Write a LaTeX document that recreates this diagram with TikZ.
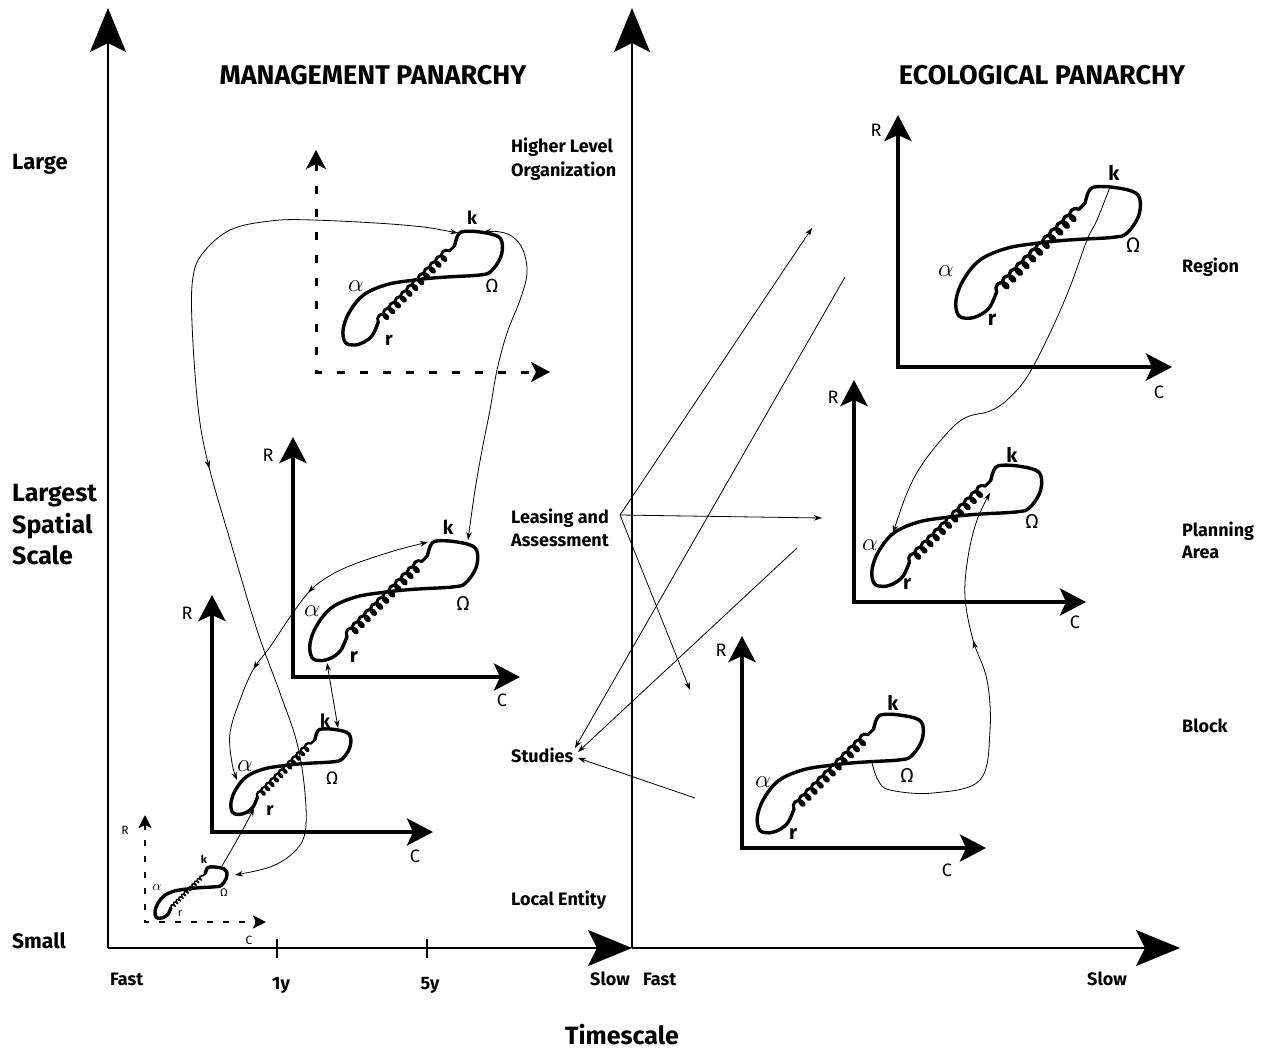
\documentclass[tikz,border=0pt]{standalone}
\usepackage{fontspec}
\setmainfont{Fira Sans}
\usetikzlibrary{arrows.meta,decorations.pathmorphing,decorations.markings}
\newcommand\fsz[1]{\fontsize{#1}{#1}\selectfont}
\newcommand\adcycle[3]{%
 \begin{scope}[shift={(#1,#2)},scale=#3]
  \draw[loopline] plot[smooth,tension=0.6] coordinates {(25,-37.4) (26.7,-44) (30,-51.4) (36.7,-54) (53.3,-53.4) (73.3,-49) (80,-40.7) (78.3,-24) (66.7,-7.4) (53.3,-3.4) (20,-1.4) (0,0) (-23.3,2.6) (-53.3,7.6) (-80,19.3) (-96.7,39.3) (-104,59.3) (-101.7,74.3) (-91.7,77.6) (-80,74.3) (-70,66) (-63.3,51)};
  \draw[loopline,line width={3pt*#3+0.3pt},decorate,decoration={coil,aspect=0.75,amplitude={4.8pt*#3},segment length={9.5pt*#3}}] (-63.3,51) -- (25,-37.4);
 \end{scope}}
\begin{document}
\begin{tikzpicture}[x=1pt,y=-1pt,
  mainax/.style={line width=2pt,-{Stealth[length=44pt,width=36pt,inset=9pt]}},
  panax/.style={line width=4pt,line join=miter,{Stealth[length=26pt,width=27pt,inset=6pt]}-{Stealth[length=26pt,width=27pt,inset=6pt]}},
  dashax/.style={line width=3pt,dash pattern=on 8pt off 15pt,{Stealth[length=19pt,width=20pt,inset=5pt]}-{Stealth[length=19pt,width=20pt,inset=5pt]}},
  tinyax/.style={line width=2.5pt,dash pattern=on 6pt off 10pt,{Stealth[length=13pt,width=13pt,inset=3pt]}-{Stealth[length=13pt,width=13pt,inset=3pt]}},
  loopline/.style={line width=3.4pt,line join=round,line cap=round},
  conn/.style={line width=0.8pt},
  tip/.tip={Stealth[length=8pt,width=5.5pt]},
  midarr/.style={postaction={decorate,decoration={markings,mark=at position #1 with {\arrow{tip}}}}},
  lbl/.style={font=\bfseries\fsz{18},anchor=base west,inner sep=0pt},
  big/.style={font=\bfseries\fsz{25},anchor=base west,inner sep=0pt},
  axl/.style={font=\fsz{18},inner sep=0pt}
]
\useasboundingbox (0,0) rectangle (1265,1051);

% ---------- main axes
\draw[mainax] (108,948) -- (108,8);
\draw[mainax] (108,948) -- (632,948);
\draw[mainax] (632,948) -- (632,8);
\draw[mainax] (632,948) -- (1180,948);
\draw[line width=2pt] (277,939) -- (277,958);
\draw[line width=2pt] (427,939) -- (427,958);

% ---------- panel axes
\draw[dashax] (316,150) -- (316,372) -- (550,372);
\draw[panax] (293,437) -- (293,677) -- (520,677);
\draw[panax] (212,595) -- (212,832) -- (433,832);
\draw[tinyax] (145,815) -- (145,922) -- (266,922);
\draw[panax] (898,115) -- (898,367) -- (1172,367);
\draw[panax] (854,380) -- (854,602) -- (1086,602);
\draw[panax] (742,636) -- (742,848) -- (986,848);

% ---------- adaptive cycles
\adcycle{433}{278}{0.864}
\adcycle{404.6}{590}{0.91}
\adcycle{298.6}{764}{0.65}
\adcycle{195.6}{888}{0.39}
\adcycle{1060}{240.7}{1}
\adcycle{967.7}{515}{0.92}
\adcycle{851}{763}{0.9}

% ---------- connector end points
\coordinate (mtK) at (458,233);
\coordinate (mtKr) at (483,232);
\coordinate (mmK) at (468,540);
\coordinate (mmKl) at (428,542);
\coordinate (mmR) at (327,663);
\coordinate (msK) at (338,728);
\coordinate (msA) at (237,780);
\coordinate (msR) at (254,808);
\coordinate (mtyK) at (222,866);
\coordinate (mtyO) at (235,875);
\coordinate (lease) at (620,515);
\coordinate (lA) at (812,228);
\coordinate (lB) at (822,518);
\coordinate (lC) at (690,690);
\coordinate (sA) at (845,277);
\coordinate (sB) at (797,548);
\coordinate (sC) at (695,798);
\coordinate (st1) at (575,748);
\coordinate (st2) at (578,752);
\coordinate (st3) at (578,758);
\coordinate (etK) at (1110,187);
\coordinate (emA) at (893,533);
\coordinate (emK) at (990,493);
\coordinate (ebO) at (872,763);

% ---------- connectors
\draw[conn,tip-tip,midarr=0.51] plot[smooth,tension=0.6] coordinates {(mtK) (403,225) (313,220) (270,221) (230,230) (203,253) (193,277) (192,323) (198,407) (208,463) (230,540) (257,630) (280,693) (297,743) (305,793) (305,833) (293,853) (270,867) (mtyO)};
\draw[conn,tip-tip] plot[smooth,tension=0.6] coordinates {(mtKr) (500,232) (513,237) (523,250) (527,273) (520,300) (507,333) (497,370) (490,410) (483,445) (475,490) (mmK)};
\draw[conn,tip-tip,midarr=0.385,midarr=0.66] plot[smooth,tension=0.6] coordinates {(mmKl) (387,553) (347,567) (323,580) (308,593) (290,617) (270,647) (253,670) (240,700) (230,733) (232,763) (msA)};
\draw[conn,tip-tip] (mmR) -- (msK);
\draw[conn,-tip] plot[smooth,tension=0.6] coordinates {(mtyK) (237,840) (248,820) (msR)};
\draw[conn,-tip] (lease) -- (lA);
\draw[conn,-tip] (lease) -- (lB);
\draw[conn,-tip] (lease) -- (lC);
\draw[conn,-tip] (sA) -- (st1);
\draw[conn,-tip] (sB) -- (st2);
\draw[conn,-tip] (sC) -- (st3);
\draw[conn,-tip] plot[smooth,tension=0.6] coordinates {(etK) (1097,220) (1087,240) (1070,287) (1050,333) (1027,377) (1007,400) (990,411) (967,417) (950,430) (923,463) (907,493) (emA)};
\draw[conn,-tip,midarr=0.64] plot[smooth,tension=0.6] coordinates {(ebO) (878,780) (890,790) (933,793) (980,780) (990,730) (987,680) (973,640) (965,597) (968,557) (977,520) (emK)};

% ---------- cycle labels
\begin{scope}[every node/.style={inner sep=0pt}]
\node[font=\bfseries\fsz{18}] (l1k) at (472,218) {k};
\node[font=\fsz{25}] (l1a) at (356,286) {$\alpha$};
\node[font=\fsz{19}] (l1o) at (492,286) {Ω};
\node[font=\bfseries\fsz{19}] (l1r) at (389,340) {r};
\node[font=\bfseries\fsz{19}] (l2k) at (448,527) {k};
\node[font=\fsz{26}] (l2a) at (312,611) {$\alpha$};
\node[font=\fsz{20}] (l2o) at (463,603) {Ω};
\node[font=\bfseries\fsz{20}] (l2r) at (354,657) {r};
\node[font=\bfseries\fsz{18}] (l3k) at (325,721) {k};
\node[font=\fsz{24}] (l3a) at (245,766) {$\alpha$};
\node[font=\fsz{18}] (l3o) at (332,778) {Ω};
\node[font=\bfseries\fsz{18}] (l3r) at (270,811) {r};
\node[font=\bfseries\fsz{11}] (l4k) at (204,859) {k};
\node[font=\fsz{14}] (l4a) at (157,887) {$\alpha$};
\node[font=\fsz{11}] (l4o) at (224,893) {Ω};
\node[font=\fsz{11}] (l4r) at (180,914) {r};
\node[font=\bfseries\fsz{20}] (l5k) at (1114,173) {k};
\node[font=\fsz{27}] (l5a) at (946,271) {$\alpha$};
\node[font=\fsz{21}] (l5o) at (1133,245) {Ω};
\node[font=\bfseries\fsz{21}] (l5r) at (992,320) {r};
\node[font=\bfseries\fsz{20}] (l6k) at (1012,455) {k};
\node[font=\fsz{26}] (l6a) at (870,545) {$\alpha$};
\node[font=\fsz{20}] (l6o) at (1032,521) {Ω};
\node[font=\bfseries\fsz{20}] (l6r) at (907,584) {r};
\node[font=\bfseries\fsz{20}] (l7k) at (893,703) {k};
\node[font=\fsz{26}] (l7a) at (763,782) {$\alpha$};
\node[font=\fsz{20}] (l7o) at (907,775) {Ω};
\node[font=\bfseries\fsz{20}] (l7r) at (793,834) {r};
\end{scope}

% ---------- R / C axis labels
\node[axl] (r1) at (268,455) {R};
\node[axl] (c1) at (502,700) {C};
\node[axl] (r2) at (187,613) {R};
\node[axl] (c2) at (415,856) {C};
\node[axl,font=\fsz{12}] (r3) at (125,830) {R};
\node[axl,font=\fsz{12}] (c3) at (249,940) {C};
\node[axl] (r4) at (876,130) {R};
\node[axl] (c4) at (1159,392) {C};
\node[axl] (r5) at (833,397) {R};
\node[axl] (c5) at (1075,622) {C};
\node[axl] (r6) at (721,650) {R};
\node[axl] (c6) at (947,870) {C};

% ---------- titles and labels
\node[big,font=\bfseries\fsz{27},anchor=base] (t1) at (373,85) {MANAGEMENT PANARCHY};
\node[big,font=\bfseries\fsz{27},anchor=base] (t2) at (1042,85) {ECOLOGICAL PANARCHY};
\node[big,font=\bfseries\fsz{22}] (large) at (12,170) {Large};
\node[big] (ls1) at (12,501) {Largest};
\node[big] (ls2) at (12,533) {Spatial};
\node[big] (ls3) at (12,564) {Scale};
\node[big,font=\bfseries\fsz{21}] (small) at (12,948) {Small};
\node[lbl] (h1) at (511,153) {Higher Level};
\node[lbl] (h2) at (511,176) {Organization};
\node[lbl] (la1) at (511,523) {Leasing and};
\node[lbl] (la2) at (511,546) {Assessment};
\node[lbl] (stud) at (511,762) {Studies};
\node[lbl] (loc) at (511,905) {Local Entity};
\node[lbl] (reg) at (1182,272) {Region};
\node[lbl] (pa1) at (1182,536) {Planning};
\node[lbl] (pa2) at (1182,558) {Area};
\node[lbl] (blk) at (1182,732) {Block};
\node[lbl] (f1) at (110,985) {Fast};
\node[lbl,anchor=base] (y1) at (281,989) {1y};
\node[lbl,anchor=base] (y5) at (430,989) {5y};
\node[lbl] (s1) at (590,985) {Slow};
\node[lbl] (f2) at (643,985) {Fast};
\node[lbl] (s2) at (1087,985) {Slow};
\node[big,font=\bfseries\fsz{25},anchor=base] (ts) at (622,1044) {Timescale};
\end{tikzpicture}
\end{document}
